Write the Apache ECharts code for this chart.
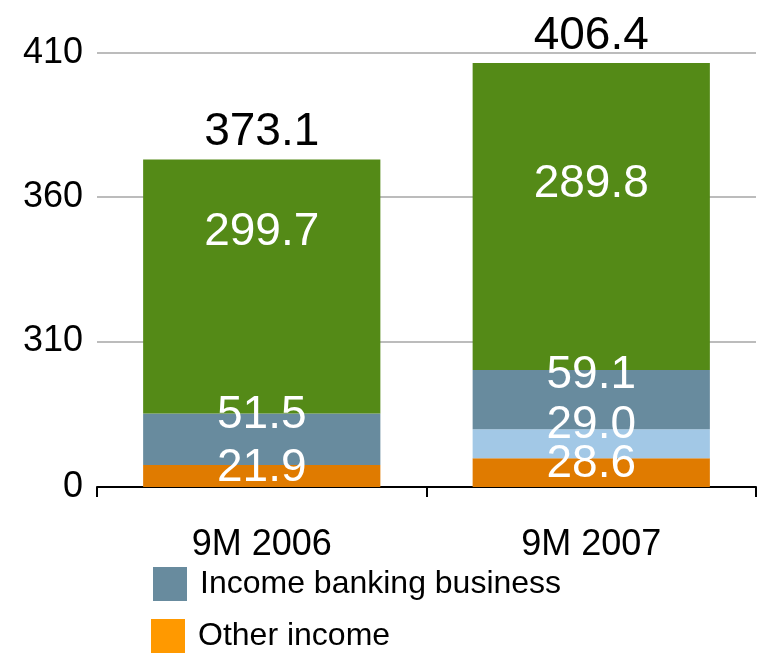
<!DOCTYPE html>
<html>
<head>
<meta charset="utf-8">
<script src="https://cdn.jsdelivr.net/npm/echarts@6.0.0/dist/echarts.min.js"></script>
<style>html,body{margin:0;padding:0;background:#fff}#c{width:757px;height:653px}</style>
</head>
<body>
<div id="c"></div>
<script>
const categories = ['9M 2006', '9M 2007'];
const otherIncome = [21.9, 28.6];
const lightSegment = ['-', 29.0];
const incomeBanking = [51.5, 59.1];
const greenSegment = [299.7, 289.8];
const totals = [373.1, 406.4];
const yTickLabels = [0, 310, 360, 410];
const legendNames = ['Income banking business', 'Other income'];

const chart = echarts.init(document.getElementById('c'), null, {renderer: 'canvas'});
const FONT = 'Liberation Sans, Arial, sans-serif';
const whiteLabel = (extra) => Object.assign({
  show: true, color: '#fff', fontSize: 46, fontFamily: FONT,
  formatter: p => Number(p.value).toFixed(1)
}, extra);

const legendBase = {
  orient: 'vertical', padding: 0,
  itemWidth: 34, itemHeight: 34, itemGap: 18,
  icon: 'rect',
  textStyle: {fontSize: 32, color: '#000', fontFamily: FONT, padding: [0, 0, 0, 8]}
};
const greenLabelDistance = [50, 98];

const option = {
  animation: false,
  textStyle: {fontFamily: FONT},
  grid: {left: 97, right: 1, top: 53, bottom: 166, containLabel: false},
  legend: [
    Object.assign({}, legendBase, {left: 153, top: 567,
      data: [{name: legendNames[0], itemStyle: {color: '#688b9e'}}]}),
    Object.assign({}, legendBase, {left: 151, top: 619,
      data: [{name: legendNames[1], itemStyle: {color: '#ff9900'}}]})
  ],
  xAxis: {
    type: 'category', data: categories,
    axisLine: {lineStyle: {color: '#000', width: 2}},
    axisTick: {show: true, length: 10, lineStyle: {color: '#000', width: 2}},
    axisLabel: {fontSize: 36, color: '#000', margin: 40, fontFamily: FONT}
  },
  yAxis: {
    type: 'value', min: 0, max: 410,
    breaks: [
      {start: 0, end: 118, gap: 41},
      {start: 121, end: 310, gap: 6.5}
    ],
    breakArea: {show: false, itemStyle: {color: 'rgba(0,0,0,0)', borderColor: 'rgba(0,0,0,0)', opacity: 0}, zigzagAmplitude: 0},
    axisLine: {show: false},
    axisTick: {show: false, customValues: yTickLabels},
    axisLabel: {fontSize: 36, color: '#000', margin: 14, fontFamily: FONT, customValues: yTickLabels},
    splitLine: {show: true, lineStyle: {color: '#a6a6a6', width: 1.5}}
  },
  series: [
    {name: legendNames[1], type: 'bar', stack: 's', barWidth: '72%', data: otherIncome,
     itemStyle: {color: '#e07b00'}, label: whiteLabel({position: 'inside', offset: [0, -8]})},
    {name: 'Other segment', type: 'bar', stack: 's', data: lightSegment,
     itemStyle: {color: '#a2c8e6'}, label: whiteLabel({position: 'inside', offset: [0, -19]})},
    {name: legendNames[0], type: 'bar', stack: 's', data: incomeBanking,
     itemStyle: {color: '#688b9e'}, label: whiteLabel({position: 'inside', offset: [0, -24]})},
    {name: 'Main segment', type: 'bar', stack: 's',
     data: greenSegment.map((v, i) => ({value: v, label: {distance: greenLabelDistance[i]}})),
     itemStyle: {color: '#548a17'}, label: whiteLabel({position: 'insideTop'})},
    {name: 'Total', type: 'bar', stack: 's', data: totals.map(() => 0),
     itemStyle: {color: 'rgba(0,0,0,0)'},
     label: {show: true, position: 'top', distance: 4, color: '#000', fontSize: 46, fontFamily: FONT,
             formatter: p => totals[p.dataIndex].toFixed(1)}}
  ]
};
chart.setOption(option);
</script>
</body>
</html>
